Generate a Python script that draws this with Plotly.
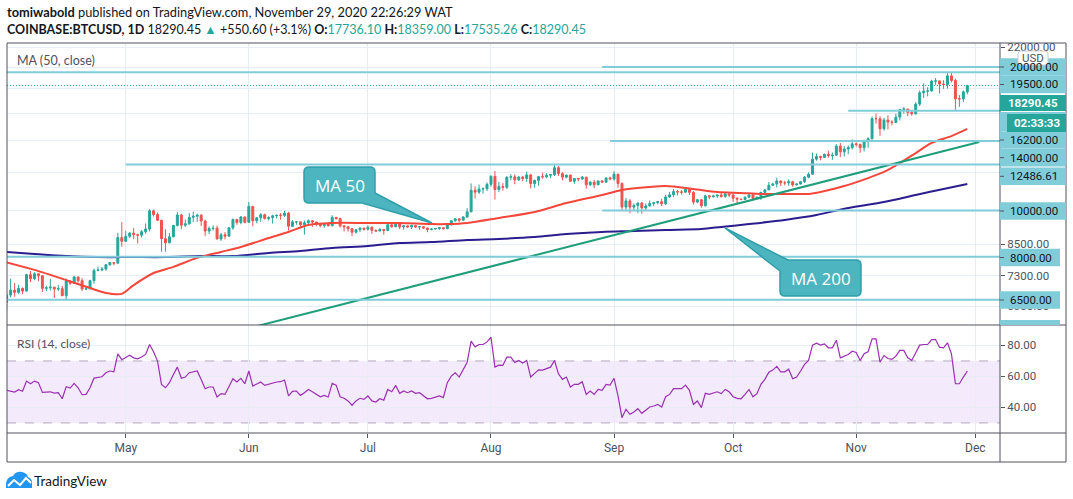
import plotly.graph_objects as go
import pandas as pd

# ---------------- DATA ----------------
dates = pd.date_range("2020-04-01", "2020-11-29", freq="D")

opens = [
    6425, 6650, 6810, 6740, 6870, 6780, 7340, 7200, 7370, 7300, 6870, 6890, 6910, 6850, 6860,
    6630, 7120, 7040, 7260, 7130, 6850, 6860, 7130, 7490, 7510, 7540, 7700, 7780, 7760, 8780,
    8620, 8830, 8970, 8900, 8880, 9030, 9150, 9990, 9810, 9540, 8730, 8560, 8810, 9310, 9790,
    9320, 9380, 9680, 9730, 9780, 9510, 9060, 9170, 9180, 8720, 8900, 8840, 9200, 9580, 9440, 9700,
    9450, 10200, 9520, 9660, 9800, 9620, 9670, 9750, 9780, 9770, 9880, 9270, 9470, 9470, 9340,
    9430, 9520, 9460, 9380, 9300, 9360, 9290, 9680, 9620, 9290, 9250, 9160, 9010, 9120, 9190,
    9140, 9230, 9090, 9060, 9130, 9080, 9340, 9250, 9430, 9240, 9290, 9240, 9300, 9240, 9250,
    9190, 9130, 9150, 9170, 9210, 9160, 9390, 9520, 9610, 9550, 9700, 9940, 11030, 10930, 11100, 11110,
    11350, 11800, 11070, 11230, 11190, 11750, 11770, 11600, 11760, 11680, 11880, 11390, 11570, 11780, 11770,
    11860, 11900, 12300, 11960, 11750, 11870, 11520, 11680, 11650, 11750, 11330, 11470, 11330, 11540, 11470, 11710,
    11650, 11920, 11400, 10170, 10480, 10170, 10250, 10370, 10130, 10230, 10350, 10390, 10440, 10330, 10680,
    10790, 10960, 10940, 10930, 11080, 10920, 10420, 10540, 10240, 10740, 10690, 10730, 10780, 10700, 10840,
    10780, 10620, 10570, 10550, 10670, 10790, 10600, 10670, 10920, 11050, 11300, 11370, 11540, 11430, 11430,
    11500, 11320, 11370, 11500, 11750, 11920, 12820, 12990, 12930, 13120, 13040, 13070, 13650, 13280, 13460, 13560,
    13800, 13760, 13550, 14030, 14150, 15590, 15580, 14840, 15480, 15330, 15300, 15700, 16290, 16330, 16070,
    15960, 16720, 17660, 17800, 17820, 18680, 18700, 18420, 18370, 19160, 18740, 17150, 17140, 17736.10,
]
highs = [
    6750, 7200, 7050, 6990, 6900, 7370, 7470, 7430, 7380, 7310, 6950, 7190, 6920, 6980, 6950,
    7200, 7150, 7300, 7260, 7220, 6950, 7160, 7560, 7630, 7620, 7730, 7800, 7790, 8980, 9460,
    9070, 9010, 9190, 8950, 9100, 9400, 10070, 10050, 9910, 9570, 9140, 8980, 9330, 9930, 9840,
    9580, 9880, 9950, 9850, 9830, 9570, 9270, 9310, 9300, 8980, 9020, 9220, 9620, 9610, 9740, 9700,
    10430, 10230, 9690, 9880, 9850, 9730, 9800, 9790, 9880, 9990, 9940, 9550, 9490, 9480, 9530,
    9580, 9560, 9480, 9400, 9400, 9420, 9780, 9690, 9660, 9330, 9290, 9190, 9130, 9220, 9200,
    9300, 9260, 9130, 9190, 9140, 9370, 9360, 9460, 9440, 9320, 9300, 9340, 9340, 9280, 9270,
    9210, 9190, 9200, 9240, 9220, 9420, 9540, 9650, 9640, 9730, 10120, 11400, 11250, 11340, 11180, 11450,
    11860, 12100, 11480, 11420, 11800, 11920, 11910, 11800, 11810, 12070, 11940, 11620, 11800, 12010, 11980,
    11930, 12480, 12400, 12030, 11890, 11890, 11690, 11710, 11820, 11770, 11540, 11590, 11550, 11590, 11720, 11780,
    12090, 11950, 11460, 10630, 10570, 10350, 10400, 10420, 10350, 10500, 10410, 10480, 10580, 10790, 10950,
    11100, 11050, 11040, 11180, 11080, 10990, 10580, 10560, 10790, 10780, 10790, 10800, 10950, 10860, 10850,
    10920, 10660, 10600, 10700, 10800, 10800, 10700, 10950, 11110, 11480, 11440, 11720, 11560, 11550, 11630,
    11540, 11400, 11500, 11820, 12030, 13230, 13170, 13030, 13170, 13350, 13240, 13790, 13860, 13650, 13690, 14100,
    13900, 13820, 14070, 14250, 15750, 15980, 15770, 15650, 15850, 15470, 15960, 16350, 16490, 16330, 16160,
    16880, 17860, 18480, 18140, 18800, 18960, 18730, 18770, 19420, 19490, 18920, 17460, 17860, 18359.00,
]
lows = [
    6160, 6580, 6600, 6680, 6680, 6770, 7080, 7150, 7110, 6750, 6780, 6800, 6560, 6780, 6620,
    6480, 6990, 7030, 7060, 6780, 6810, 6840, 7030, 7460, 7460, 7480, 7660, 7680, 7740, 8400,
    8600, 8760, 8710, 8530, 8780, 8940, 9040, 9720, 9520, 8200, 8200, 8540, 8800, 9260, 9140,
    9230, 9340, 9460, 9470, 9280, 8840, 8930, 9080, 8700, 8640, 8700, 8820, 9110, 9340, 9360, 9400,
    9420, 9270, 9400, 9470, 9580, 9530, 9390, 9630, 9570, 9700, 9080, 9240, 9340, 9250, 8900,
    9380, 9240, 9280, 9220, 9200, 9270, 9280, 9580, 9210, 9040, 9030, 8840, 8950, 9020, 9080,
    9090, 8940, 9040, 9050, 8900, 9060, 9200, 9230, 9150, 9120, 9190, 9150, 9200, 9110, 9150,
    9010, 9090, 9120, 9110, 9130, 9150, 9280, 9480, 9450, 9530, 9650, 9920, 10600, 10840, 10850, 10990,
    11220, 10550, 10930, 11010, 11100, 11570, 11360, 11530, 11520, 11480, 11130, 11160, 11270, 11660, 11690,
    11690, 11820, 11820, 11570, 11680, 11490, 11380, 11520, 11600, 11120, 11260, 11140, 11300, 11430, 11460, 11580,
    11550, 11170, 10030, 9960, 9880, 10000, 9880, 9850, 10020, 10200, 10210, 10300, 10220, 10270, 10630,
    10670, 10760, 10810, 10890, 10780, 10290, 10360, 10140, 10190, 10560, 10650, 10630, 10640, 10640, 10670,
    10430, 10370, 10510, 10530, 10620, 10550, 10570, 10530, 10830, 11050, 11280, 11180, 11260, 11300, 11270,
    11220, 11300, 11350, 11420, 11690, 11900, 12720, 12750, 12900, 12910, 12780, 13060, 12950, 12990, 13130, 13430,
    13620, 13220, 13300, 13540, 14080, 15220, 14350, 14710, 14800, 15090, 15280, 15450, 15960, 15780, 15800,
    15880, 16570, 17230, 17360, 17760, 18350, 17610, 18000, 18030, 18580, 16190, 16500, 16880, 17535.26,
]
closes = [
    6650, 6810, 6740, 6870, 6780, 7340, 7200, 7370, 7300, 6870, 6890, 6910, 6850, 6860, 6630,
    7120, 7040, 7260, 7130, 6850, 6860, 7130, 7490, 7510, 7540, 7700, 7780, 7760, 8780, 8620,
    8830, 8970, 8900, 8880, 9030, 9150, 9990, 9810, 9540, 8730, 8560, 8810, 9310, 9790, 9320,
    9380, 9680, 9730, 9780, 9510, 9060, 9170, 9180, 8720, 8900, 8840, 9200, 9580, 9440, 9700, 9450,
    10200, 9520, 9660, 9800, 9620, 9670, 9750, 9780, 9770, 9880, 9270, 9470, 9470, 9340, 9430,
    9520, 9460, 9380, 9300, 9360, 9290, 9680, 9620, 9290, 9250, 9160, 9010, 9120, 9190, 9140,
    9230, 9090, 9060, 9130, 9080, 9340, 9250, 9430, 9240, 9290, 9240, 9300, 9240, 9250, 9190,
    9130, 9150, 9170, 9210, 9160, 9390, 9520, 9610, 9550, 9700, 9940, 11030, 10930, 11100, 11110, 11350,
    11800, 11070, 11230, 11190, 11750, 11770, 11600, 11760, 11680, 11880, 11390, 11570, 11780, 11770, 11860,
    11900, 12300, 11960, 11750, 11870, 11520, 11680, 11650, 11750, 11330, 11470, 11330, 11540, 11470, 11710, 11650,
    11920, 11400, 10170, 10480, 10170, 10250, 10370, 10130, 10230, 10350, 10390, 10440, 10330, 10680, 10790,
    10960, 10940, 10930, 11080, 10920, 10420, 10540, 10240, 10740, 10690, 10730, 10780, 10700, 10840, 10780,
    10620, 10570, 10550, 10670, 10790, 10600, 10670, 10920, 11050, 11300, 11370, 11540, 11430, 11430, 11500,
    11320, 11370, 11500, 11750, 11920, 12820, 12990, 12930, 13120, 13040, 13070, 13650, 13280, 13460, 13560, 13800,
    13760, 13550, 14030, 14150, 15590, 15580, 14840, 15480, 15330, 15300, 15700, 16290, 16330, 16070, 15960,
    16720, 17660, 17800, 17820, 18680, 18700, 18420, 18370, 19160, 18740, 17150, 17140, 17739.85, 18290.45,
]

rsi_values = [
    51.0,
    50.6, 49.9, 51.4, 50.4, 57.0, 55.3, 57.0, 56.0, 49.7, 49.9,
    50.1, 49.3, 49.5, 45.6, 53.4, 52.5, 55.5, 52.7, 48.2, 48.4,
    52.7, 58.9, 59.4, 59.8, 62.4, 63.5, 63.0, 74.6, 70.8, 72.5,
    73.7, 72.0, 71.4, 72.5, 74.2, 80.6, 75.9, 69.9, 54.9, 52.7,
    56.0, 61.3, 66.0, 58.8, 59.6, 62.4, 63.0, 63.5, 58.1, 52.1,
    53.2, 53.2, 46.7, 48.9, 48.4, 53.8, 58.5, 56.4, 58.8, 55.3,
    63.5, 53.8, 54.9, 56.4, 54.2, 54.9, 56.0, 56.4, 56.6, 57.7,
    47.4, 50.4, 50.6, 47.8, 49.5, 51.6, 50.1, 48.4, 46.9, 47.8,
    46.7, 55.5, 54.4, 46.9, 45.9, 44.2, 41.4, 44.2, 45.9, 45.2,
    47.4, 44.2, 43.5, 45.6, 44.6, 51.6, 50.1, 54.2, 49.1, 50.6,
    49.5, 50.6, 49.1, 49.5, 47.4, 45.6, 45.9, 46.7, 47.4, 46.3,
    56.0, 60.2, 62.4, 59.6, 64.5, 69.2, 82.8, 79.1, 80.6, 80.6,
    82.3, 85.3, 66.0, 67.3,
    67.1, 72.5, 72.5, 69.0, 70.3, 68.6, 70.3, 59.6, 62.0, 64.3,
    64.1, 65.2, 66.0, 70.3, 61.7, 58.1, 59.6, 53.2, 54.9, 54.9,
    56.6, 48.4, 50.6, 48.4, 51.6, 51.0, 54.9, 54.4, 58.8, 47.4,
    33.4, 38.8, 35.6, 37.1, 39.2, 36.2, 38.1, 40.3, 40.9, 42.0,
    40.3, 46.9, 48.4, 52.1, 52.1, 52.1, 54.4, 51.0, 42.0, 44.2,
    39.9, 49.1, 48.4, 49.5, 50.1, 48.9, 51.6, 50.1, 46.9, 45.9,
    45.6, 48.4, 51.6, 46.9, 48.9, 54.9, 58.1, 62.8, 64.1, 66.5,
    63.0, 63.0, 64.7, 58.5, 59.6, 63.5, 67.8, 70.3, 80.2, 81.5,
    80.2, 81.0, 78.5, 78.5, 83.4, 72.0, 73.3, 74.2, 76.3, 75.5,
    70.3, 74.6, 75.9, 84.3, 84.3, 69.2, 73.5, 71.6, 71.0, 73.1,
    76.8, 76.8, 72.0, 70.3, 75.3, 80.2, 80.6, 80.6, 83.8, 83.8,
    78.9, 78.5, 81.7, 74.6, 55.3, 55.3, 59.6, 63.5,
]

ma50_dates = [
    "2020-04-01", "2020-04-08", "2020-04-16", "2020-04-22", "2020-04-26", "2020-04-30", "2020-05-03",
    "2020-05-08", "2020-05-13", "2020-05-19", "2020-05-25", "2020-05-30", "2020-06-06", "2020-06-11",
    "2020-06-16", "2020-06-22", "2020-07-01", "2020-07-09", "2020-07-17", "2020-07-21", "2020-07-26",
    "2020-08-03", "2020-08-12", "2020-08-20", "2020-08-29", "2020-09-03", "2020-09-10", "2020-09-14",
    "2020-09-21", "2020-09-27", "2020-10-03", "2020-10-08", "2020-10-14", "2020-10-20", "2020-10-23",
    "2020-10-29", "2020-11-04", "2020-11-08", "2020-11-12", "2020-11-16", "2020-11-20", "2020-11-25",
    "2020-11-29",
]
ma50_values = [
    7790, 7510, 7150, 6880, 6720, 6690, 6980, 7400, 7620, 7960, 8190, 8390, 8760, 9020, 9330,
    9420, 9420, 9420, 9370, 9370, 9420, 9650, 9930, 10370, 10780, 11050, 11210, 11260, 11100, 10940,
    10890, 10840, 10840, 10840, 10940, 11260, 11700, 12050, 12580, 13200, 13860, 14330, 14830,
]
ma200_dates = [
    "2020-04-01", "2020-04-08", "2020-04-16", "2020-04-24", "2020-05-03", "2020-05-11", "2020-05-20",
    "2020-05-28", "2020-06-06", "2020-06-14", "2020-06-22", "2020-07-01", "2020-07-09", "2020-07-17",
    "2020-07-26", "2020-08-03", "2020-08-12", "2020-08-20", "2020-08-29", "2020-09-06", "2020-09-14",
    "2020-09-23", "2020-09-28", "2020-10-05", "2020-10-14", "2020-10-22", "2020-10-30", "2020-11-08",
    "2020-11-16", "2020-11-23", "2020-11-29",
]
ma200_values = [
    8190, 8110, 8030, 7990, 7990, 7990, 8030, 8030, 8150, 8230, 8350, 8430, 8550, 8590, 8680,
    8720, 8800, 8930, 9020, 9060, 9110, 9150, 9240, 9370, 9560, 9790, 10130, 10420, 10780, 11100, 11370,
]

trend_dates = ["2020-06-03", "2020-12-02"]
trend_prices = [5724, 13925]

level_prices = [20000, 19500, 16200, 14000, 12486.61, 10000, 8000, 6500]
level_starts = ["2020-08-29", "2020-03-20", "2020-10-30", "2020-08-31",
                "2020-05-01", "2020-08-29", "2020-03-20", "2020-03-20"]
level_end = "2020-12-20"

month_ticks = ["2020-05-01", "2020-06-01", "2020-07-01", "2020-08-01",
               "2020-09-01", "2020-10-01", "2020-11-01", "2020-12-01"]
month_labels = ["May", "Jun", "Jul", "Aug", "Sep", "Oct", "Nov", "Dec"]

price_ticks = [6300, 7300, 8500, 10000, 12000, 14000, 16000, 18000, 20000, 22000]
price_tick_shown = [6300, 7300, 8500, 22000]
rsi_ticks = [40, 60, 80]

assert all(len(a) == len(dates) for a in (opens, highs, lows, closes, rsi_values))
assert len(ma50_dates) == len(ma50_values) and len(ma200_dates) == len(ma200_values)

# ---------------- STYLE ----------------
UP = "#26a69a"
DOWN = "#ef5350"
LEVEL = "#80ccd9"
GRID = "#e6edf3"
FRAME = "#50535e"
TXT = "#4c525e"
DARK = "#131722"
AXFONT = "Roboto"
HFONT = "Lato"

PL, PR, PT, PB = 7, 1000, 43, 433   # plot area in page pixels
SPLIT = 325                          # price / RSI pane border


def px(x):
    return (x - PL) / (PR - PL)


def py(y):
    return (PB - y) / (PB - PT)


def path(*cmds):
    out = []
    for c in cmds:
        if c[0] == "Z":
            out.append("Z")
            continue
        v = c[1:]
        pts = [f"{px(v[i]):.5f},{py(v[i + 1]):.5f}" for i in range(0, len(v), 2)]
        out.append(c[0] + " " + " ".join(pts))
    return " ".join(out)


fig = go.Figure()

# candles
fig.add_trace(go.Candlestick(
    x=dates, open=opens, high=highs, low=lows, close=closes,
    increasing=dict(line=dict(color=UP, width=1), fillcolor=UP),
    decreasing=dict(line=dict(color=DOWN, width=1), fillcolor=DOWN),
    whiskerwidth=0, hoverinfo="skip", xaxis="x", yaxis="y",
))
# moving averages
fig.add_trace(go.Scatter(x=ma200_dates, y=ma200_values, mode="lines", hoverinfo="skip",
                         line=dict(color="#2b1d8e", width=2, shape="spline", smoothing=0.8)))
fig.add_trace(go.Scatter(x=ma50_dates, y=ma50_values, mode="lines", hoverinfo="skip",
                         line=dict(color="#f4473c", width=2, shape="spline", smoothing=0.8)))
# trend line
fig.add_trace(go.Scatter(x=trend_dates, y=trend_prices, mode="lines", hoverinfo="skip",
                         line=dict(color="#1f9e7b", width=2)))
# horizontal levels
for p, s in zip(level_prices, level_starts):
    fig.add_trace(go.Scatter(x=[s, level_end], y=[p, p], mode="lines", hoverinfo="skip",
                             line=dict(color=LEVEL, width=2)))
# last price line
fig.add_trace(go.Scatter(x=["2020-03-20", level_end], y=[closes[-1], closes[-1]], mode="lines",
                         hoverinfo="skip", line=dict(color=UP, width=1, dash="1px,2px")))
# RSI
fig.add_trace(go.Scatter(x=dates, y=rsi_values, mode="lines", yaxis="y2", hoverinfo="skip",
                         line=dict(color="#9c2fb3", width=1.2)))

split = py(SPLIT)

shapes = []
# RSI band
shapes.append(dict(type="rect", xref="paper", yref="y2", x0=0, x1=1, y0=30, y1=70,
                   fillcolor="rgba(150,60,230,0.11)", line=dict(width=0), layer="between"))
for lv in (70, 30):
    shapes.append(dict(type="line", xref="paper", yref="y2", x0=0, x1=1, y0=lv, y1=lv,
                       line=dict(color="#b3a7be", width=1, dash="dash"), layer="between"))


def hline(y, x0=PL, x1=1066, color=FRAME, w=1):
    shapes.append(dict(type="line", xref="paper", yref="paper", x0=px(x0), x1=px(x1),
                       y0=py(y), y1=py(y), line=dict(color=color, width=w), layer="above"))


def vline(x, y0=PT, y1=462, color=FRAME, w=1):
    shapes.append(dict(type="line", xref="paper", yref="paper", x0=px(x), x1=px(x),
                       y0=py(y0), y1=py(y1), line=dict(color=color, width=w), layer="above"))


def rect(x0, y0, x1, y1, fill, line=None):
    shapes.append(dict(type="rect", xref="paper", yref="paper", x0=px(x0), x1=px(x1),
                       y0=py(y1), y1=py(y0), fillcolor=fill,
                       line=dict(width=0) if line is None else line, layer="above"))


hline(PT)
hline(SPLIT)
hline(PB)
hline(462)
vline(PL)
vline(PR)
vline(1066)

annotations = []


def text(x, y, s, size=12, color=DARK, family=HFONT, xanchor="left", bold=False):
    annotations.append(dict(xref="paper", yref="paper", x=px(x), y=py(y), text=(f"<b>{s}</b>" if bold else s),
                            showarrow=False, xanchor=xanchor, yanchor="middle",
                            font=dict(size=size, color=color, family=family)))


# price-axis label boxes (stacked like the reference)
label_centers = [67, 84.5, 140, 157.7, 176.3, 211, 257.5, 300]
rect(PR, 112, 1066, 131, LEVEL)          # box hidden behind countdown
for p, cy in zip(level_prices, label_centers):
    s = f"{p:.2f}"
    right = 1066 if len(s) >= 8 else 1060
    rect(PR, cy - 8.8, right, cy + 8.8, LEVEL)
    shapes.append(dict(type="line", xref="paper", yref="paper", x0=px(PR), x1=px(PR + 4),
                       y0=py(cy), y1=py(cy), line=dict(color=FRAME, width=1), layer="above"))
    text(1008, cy, s, size=11.5, color=DARK, family=AXFONT)
rect(PR, 320, 1060, SPLIT, LEVEL)

# last price + countdown
rect(PR, 95, 1066, 111, UP)
text(1033, 103, f"{closes[-1]:.2f}", size=11.5, color="white", family=AXFONT, xanchor="center", bold=True)
rect(1007, 114, 1066, 132, UP)
text(1036.5, 123, "02:33:33", size=11.5, color="white", family=AXFONT, xanchor="center", bold=True)

# USD badge
shapes.append(dict(type="path", xref="paper", yref="paper", layer="above",
                   path=path(("M", 1021, 51), ("L", 1045, 51), ("Q", 1048, 51, 1048, 54), ("L", 1048, 62),
                             ("Q", 1048, 65, 1045, 65), ("L", 1021, 65), ("Q", 1018, 65, 1018, 62),
                             ("L", 1018, 54), ("Q", 1018, 51, 1021, 51), ("Z",)),
                   fillcolor="white", line=dict(color="#c9ccd3", width=1)))
text(1033, 58, "USD", size=11.5, color=TXT, family=AXFONT, xanchor="center")

# callouts
CALL_FILL = "#4cb5bf"
CALL_LINE = "#2f9fa9"
shapes.append(dict(type="path", xref="paper", yref="paper", layer="above",
                   path=path(("M", 309, 167), ("L", 370, 167), ("Q", 375, 167, 375, 172), ("L", 375, 193),
                             ("L", 432, 223), ("L", 362, 203), ("L", 309, 203), ("Q", 304, 203, 304, 198),
                             ("L", 304, 172), ("Q", 304, 167, 309, 167), ("Z",)),
                   fillcolor=CALL_FILL, line=dict(color=CALL_LINE, width=1.5)))
shapes.append(dict(type="path", xref="paper", yref="paper", layer="above",
                   path=path(("M", 788, 260), ("L", 856, 260), ("Q", 861, 260, 861, 265), ("L", 861, 291),
                             ("Q", 861, 296, 856, 296), ("L", 785, 296), ("Q", 780, 296, 780, 291),
                             ("L", 780, 271), ("L", 725, 228), ("Z",)),
                   fillcolor=CALL_FILL, line=dict(color=CALL_LINE, width=1.5)))
text(340, 185, "MA 50", size=17, color="white", family="Open Sans", xanchor="center")
text(820.5, 278, "MA 200", size=17, color="white", family="Open Sans", xanchor="center")

# legends inside panes
text(15, 61, "MA (50, close)", size=12.5, color=TXT, family=HFONT)
text(15, 343, "RSI (14, close)", size=12, color=TXT, family=HFONT)

# header
last, prev = closes[-1], closes[-2]
chg = last - prev
pct = chg / prev * 100


def teal(v):
    return f"<span style='color:{UP}'>{v:.2f}</span>"


text(5, 12, "<b>tomiwabold</b> published on TradingView.com, November 29, 2020 22:26:29 WAT",
     size=12.8, color=DARK, family=HFONT)
text(5, 30, (f"<b>COINBASE:BTCUSD, 1D</b> {last:.2f} <span style='color:{UP}'>▲</span> "
             f"+{chg:.2f} (+{pct:.1f}%) <b>O:</b>{teal(opens[-1])} <b>H:</b>{teal(highs[-1])} "
             f"<b>L:</b>{teal(lows[-1])} <b>C:</b>{teal(last)}"),
     size=12.5, color=DARK, family=HFONT)

# TradingView logo
shapes.append(dict(type="path", xref="paper", yref="paper", layer="above",
                   path=path(("M", 6, 488), ("L", 6, 483), ("Q", 7, 477, 13, 476), ("Q", 16, 471, 22, 472),
                             ("Q", 27, 473, 28, 477), ("Q", 33, 479, 32, 485), ("L", 32, 488), ("Z",)),
                   fillcolor="#2196f3", line=dict(width=0)))
shapes.append(dict(type="path", xref="paper", yref="paper", layer="above",
                   path=path(("M", 8, 486), ("L", 14, 480), ("L", 20, 485), ("L", 26, 478), ("L", 31, 483)),
                   line=dict(color="white", width=2)))
text(32, 480.5, "TradingView", size=13.5, color=DARK, family=HFONT)

fig.update_layout(
    width=1073, height=499,
    margin=dict(l=PL, r=1073 - PR, t=PT, b=499 - PB),
    paper_bgcolor="white", plot_bgcolor="white",
    showlegend=False,
    xaxis=dict(type="date", range=["2020-04-01 02:00:00", "2020-12-07 05:30:00"], anchor="y2",
               tickvals=month_ticks, ticktext=month_labels, showgrid=True, gridcolor=GRID, gridwidth=1,
               ticks="outside", ticklen=4, tickcolor=FRAME, zeroline=False, showline=False,
               tickfont=dict(family=AXFONT, size=12, color=TXT), rangeslider=dict(visible=False)),
    yaxis=dict(domain=[split, 1], type="log", range=[3.76015, 4.35134], side="right", anchor="x",
               tickvals=price_ticks,
               ticktext=[f"{v:.2f}" if v in price_tick_shown else "" for v in price_ticks],
               showgrid=True, gridcolor=GRID, gridwidth=1, zeroline=False, showline=False,
               ticks="outside", ticklen=4, tickcolor=FRAME,
               tickfont=dict(family=AXFONT, size=11.5, color=TXT)),
    yaxis2=dict(domain=[0, split], range=[23.5, 93.2], side="right", anchor="x",
                tickvals=rsi_ticks, ticktext=[f"{v:.2f}" for v in rsi_ticks],
                showgrid=True, gridcolor=GRID, gridwidth=1, zeroline=False, showline=False,
                ticks="outside", ticklen=4, tickcolor=FRAME,
                tickfont=dict(family=AXFONT, size=11.5, color=TXT)),
    shapes=shapes,
    annotations=annotations,
)

fig.write_html("out.html", config={"displayModeBar": False},
               post_script="document.body.style.margin='0';document.body.style.overflow='hidden';")
